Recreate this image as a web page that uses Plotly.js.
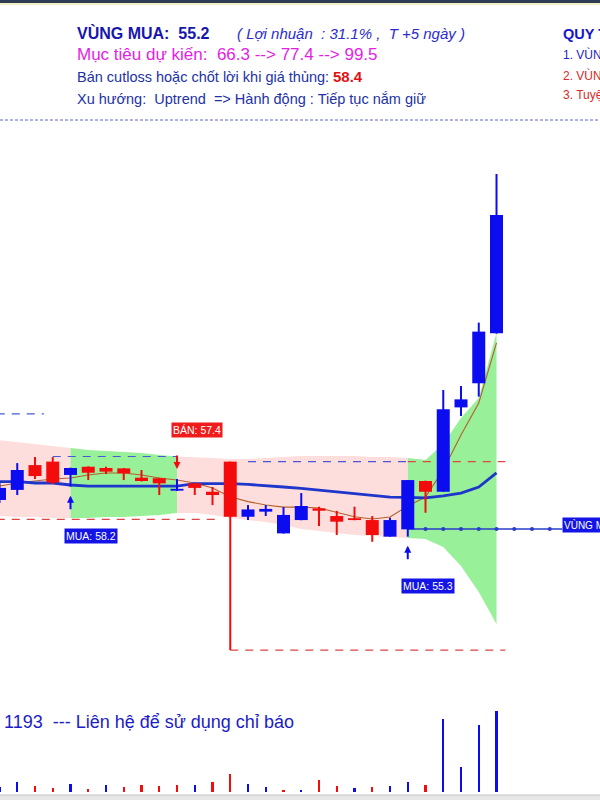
<!DOCTYPE html>
<html><head><meta charset="utf-8">
<script src="https://cdn.plot.ly/plotly-3.0.1.min.js"></script>
<style>html,body{margin:0;padding:0;background:#fff;overflow:hidden}#chart{width:600px;height:800px}</style>
</head><body><div id="chart"></div>
<script>
// ---------- DATA ----------
const days   = [0,1,2,3,4,5,6,7,8,9,10,11,12,13,14,15,16,17,18,19,20,21,22,23,24,25,26,27,28];
const openP  = [56.79,57.34,58.70,58.89,58.16,58.61,58.54,58.52,58.01,57.98,57.30,57.70,57.24,58.89,55.87,56.15,54.96,55.69,56.33,55.91,55.79,55.69,54.78,55.18,57.83,57.24,61.86,63.18,65.92];
const highP  = [57.72,58.81,59.14,59.14,58.56,58.63,58.61,58.54,58.43,58.00,57.94,57.72,57.50,58.89,56.51,56.51,56.40,57.17,56.42,56.19,56.42,55.91,55.82,57.88,57.85,62.81,63.03,66.50,74.64];
const lowP   = [56.62,57.06,57.94,57.66,57.52,57.88,58.21,57.88,57.80,57.06,57.28,57.06,56.51,48.57,55.69,55.91,54.95,55.68,55.36,54.87,55.68,54.50,54.78,54.78,56.09,57.24,61.39,62.45,65.90];
const closeP = [57.45,58.43,58.10,57.74,58.54,58.28,58.34,58.25,57.83,57.70,57.40,57.45,57.06,55.87,56.27,56.30,55.97,56.46,56.20,55.60,55.69,54.87,55.69,57.88,57.24,61.76,62.30,66.01,72.40];
const prevClose0 = 57.20;
const volume = [51,101,57,44,84,34,68,51,68,61,68,68,101,176,84,51,17,17,118,57,44,51,57,101,68,726,247,669,810];
const maSlow = [57.79,57.79,57.72,57.72,57.61,57.55,57.55,57.55,57.55,57.55,57.55,57.69,57.69,57.69,57.64,57.55,57.50,57.43,57.34,57.25,57.14,57.03,56.95,56.93,56.90,57.01,57.17,57.50,58.27];
const maFast = [57.55,57.72,57.83,57.94,57.99,58.16,58.27,58.27,58.16,57.99,57.88,57.72,57.45,56.97,56.70,56.51,56.40,56.40,56.35,56.09,55.87,55.75,55.86,56.46,56.95,58.43,60.35,62.10,65.39];
const bandUpper = [60.07,59.96,59.85,59.75,59.64,59.53,59.47,59.42,59.36,59.25,59.17,59.14,59.09,59.03,59.03,59.09,59.14,59.20,59.20,59.20,59.20,59.14,59.14,59.09,58.98,59.85,61.28,62.37,65.93];
const bandLower = [55.91,55.86,55.86,55.80,55.80,55.80,55.86,55.86,55.91,55.97,56.08,56.08,55.97,55.80,55.69,55.58,55.42,55.20,55.09,54.98,54.87,54.82,54.76,54.71,54.65,54.21,53.17,51.75,50.00];
// signals
const sigIdx   = [4, 10, 23];
const sigType  = ['MUA', 'BÁN', 'MUA'];
const sigPrice = [58.2, 57.4, 55.3];
// dashed price levels
const levelPrice = [61.50, 59.17, 58.89, 58.89, 55.73, 48.57];
const levelFrom  = [-1, 3, 14, 23, -1, 13];
const levelTo    = [2.5, 10, 23, 28.5, 12.5, 28.5];
const levelKind  = ['tren','tren','tren','duoi','duoi','duoi'];
// buy zone
const zonePrice = 55.2;
const zoneFrom = 23, zoneTo = 31.7;
const zoneDots = [24,25,26,27,28,29,30,31];

// ---------- STYLE ----------
const BLUE = '#0c0cf0', RED = '#f40c0c';
const PINK = 'rgba(253,222,220,1)', GREEN = 'rgba(152,240,152,1)';
const FONT = 'Liberation Sans, Arial, sans-serif';
const N = days.length;
const isUp = days.map((d,i)=> closeP[i] >= openP[i]);

const traces = [];
// bands (pink when not holding, green when holding)
const bounds = [days[0], ...sigIdx, days[N-1]];
for (let k = 0; k < bounds.length - 1; k++) {
  const s = bounds[k], e = bounds[k+1];
  const holding = k > 0 && sigType[k-1] === 'MUA';
  const xs = [], ys = [];
  for (let i = s; i <= e; i++) { xs.push(days[i]); ys.push(bandUpper[i]); }
  for (let i = e; i >= s; i--) { xs.push(days[i]); ys.push(bandLower[i]); }
  traces.push({type:'scatter', mode:'lines', x:xs, y:ys, fill:'toself',
    fillcolor: holding ? GREEN : PINK, line:{width:0}, hoverinfo:'skip'});
}
// dashed levels
levelPrice.forEach((p,k)=>{
  traces.push({type:'scatter', mode:'lines', x:[levelFrom[k], levelTo[k]], y:[p,p],
    line:{color: levelKind[k]==='tren' ? '#4a58d8' : '#e04444', width:1.2, dash:'8px,7px'}, hoverinfo:'skip'});
});
// moving averages
traces.push({type:'scatter', mode:'lines', x:days, y:maFast, line:{color:'#b4602c', width:1.1}, hoverinfo:'skip'});
traces.push({type:'scatter', mode:'lines', x:days, y:maSlow, line:{color:'#1e36cc', width:2.8}, hoverinfo:'skip'});
// zone line
traces.push({type:'scatter', mode:'lines', x:[zoneFrom, zoneTo], y:[zonePrice, zonePrice],
  line:{color:'#2a3cc8', width:1.5}, hoverinfo:'skip'});
traces.push({type:'scatter', mode:'markers', x:zoneDots, y:zoneDots.map(()=>zonePrice),
  marker:{color:'#2a3cc8', size:4}, hoverinfo:'skip'});
// candles
function seg(cond, a, b){
  const xs=[], ys=[];
  days.forEach((d,i)=>{ if(cond(i)){ xs.push(d,d,null); ys.push(a[i], b[i], null); } });
  return {xs, ys};
}
[[true, BLUE],[false, RED]].forEach(([u, col])=>{
  const w = seg(i=>isUp[i]===u, lowP, highP);
  traces.push({type:'scatter', mode:'lines', x:w.xs, y:w.ys, line:{color:col, width:2}, hoverinfo:'skip'});
  const b = seg(i=>isUp[i]===u, openP, closeP);
  traces.push({type:'scatter', mode:'lines', x:b.xs, y:b.ys, line:{color:col, width:13}, hoverinfo:'skip'});
});
// volume
const volColor = days.map((d,i)=> closeP[i] >= (i===0 ? prevClose0 : closeP[i-1]) ? BLUE : RED);
traces.push({type:'bar', x:days, y:volume, yaxis:'y2', width:0.12, marker:{color:volColor, line:{width:0}}, hoverinfo:'skip'});

// ---------- ANNOTATIONS ----------
const ann = [];
function txt(text, xpx, ypx, size, color, extra){
  ann.push(Object.assign({xref:'paper', yref:'paper', x:xpx/600, y:1-ypx/800, xanchor:'left', yanchor:'middle',
    text:text, showarrow:false, font:{family:FONT, size:size, color:color}}, extra||{}));
}
const S = '\u00a0';
txt('<b>VÙNG MUA:'+S+S+'55.2</b>', 75, 33, 16, '#1616ae');
txt('<i>( Lợi nhuận '+S+': 31.1% ,'+S+S+'T +5 ngày )</i>', 235, 33, 15, '#2b2bd0');
txt('Mục tiêu dự kiến:'+S+S+'66.3 --> 77.4 --> 99.5', 75, 55, 17, '#e41ee4');
txt('Bán cutloss hoặc chốt lời khi giá thủng:', 75, 77, 14.5, '#2232a6');
txt('<b>58.4</b>', 331, 77, 15, '#e01212');
txt('Xu hướng:'+S+S+'Uptrend'+S+S+'=> Hành động : Tiếp tục nắm giữ', 75, 99, 14.5, '#2232a6');
txt('<b>QUY TẮC GIAO DỊCH</b>', 561, 33, 14.5, '#1616c8');
txt('1. VÙNG MUA: mua khi giá về vùng', 561, 55, 12, '#2424c4');
txt('2. VÙNG BÁN: bán khi có tín hiệu', 561, 75, 12, '#e02626');
txt('3. Tuyệt đối tuân thủ cutloss', 561, 95, 12, '#e02626');
txt('1193'+S+S+'--- Liên hệ để sử dụng chỉ báo', 2, 722, 18, '#1c1cc8');

// signal labels and arrows
sigIdx.forEach((i,k)=>{
  const buy = sigType[k] === 'MUA';
  const col = buy ? '#1414e6' : '#f01c1c';
  const yRef = buy ? lowP[i] : highP[i];
  ann.push({x:days[i], y:yRef, xref:'x', yref:'y', text:sigType[k]+': '+sigPrice[k].toFixed(1),
    showarrow:false, xshift:20, yshift: buy ? -49 : 49, bgcolor:col, borderpad:1,
    font:{family:FONT, size:10.5, color:'#ffffff'}});
  ann.push({x:days[i], y:yRef, xref:'x', yref:'y', text:'', showarrow:true, arrowhead:2, arrowsize:0.7,
    arrowwidth:2, arrowcolor: buy ? BLUE : RED, ax:0, ay: buy ? 24 : -25, standoff: buy ? 9 : 10});
});
ann.push({x:zoneTo, y:zonePrice, xref:'x', yref:'y', xanchor:'left', yanchor:'middle', yshift:4,
  text:'VÙNG MUA: '+zonePrice.toFixed(1), showarrow:false, bgcolor:'#1414e6', borderpad:1,
  font:{family:FONT, size:10, color:'#ffffff'}});

// ---------- LAYOUT ----------
const shapes = [
  {type:'rect', xref:'paper', yref:'paper', x0:0, x1:1, y0:1-3/800, y1:1, fillcolor:'#2f3e55', line:{width:0}},
  {type:'rect', xref:'paper', yref:'paper', x0:0, x1:1, y0:1-5/800, y1:1-3/800, fillcolor:'#f2eec4', line:{width:0}},
  {type:'line', xref:'paper', yref:'paper', x0:0, x1:1, y0:1-120/800, y1:1-120/800, line:{color:'#5a64d0', width:1, dash:'3px,2px'}},
  {type:'rect', xref:'paper', yref:'paper', x0:0, x1:1, y0:0, y1:5/800, fillcolor:'#e6e6e6', line:{width:0}},
  {type:'line', xref:'paper', yref:'paper', x0:0, x1:1, y0:5/800, y1:5/800, line:{color:'#c4c4c4', width:1}},
];
const layout = {
  width:600, height:800, margin:{l:0,r:0,t:0,b:0,pad:0},
  paper_bgcolor:'#ffffff', plot_bgcolor:'rgba(0,0,0,0)', showlegend:false,
  xaxis:{range:[0.028, 33.83], visible:false, fixedrange:true},
  yaxis:{domain:[0.1375, 0.8375], range:[46.383, 77.051], visible:false},
  yaxis2:{domain:[0.01, 0.125], range:[0, 920], visible:false, anchor:'x'},
  annotations:ann, shapes:shapes, bargap:0
};
Plotly.newPlot('chart', traces, layout, {staticPlot:true, displayModeBar:false});
</script></body></html>
